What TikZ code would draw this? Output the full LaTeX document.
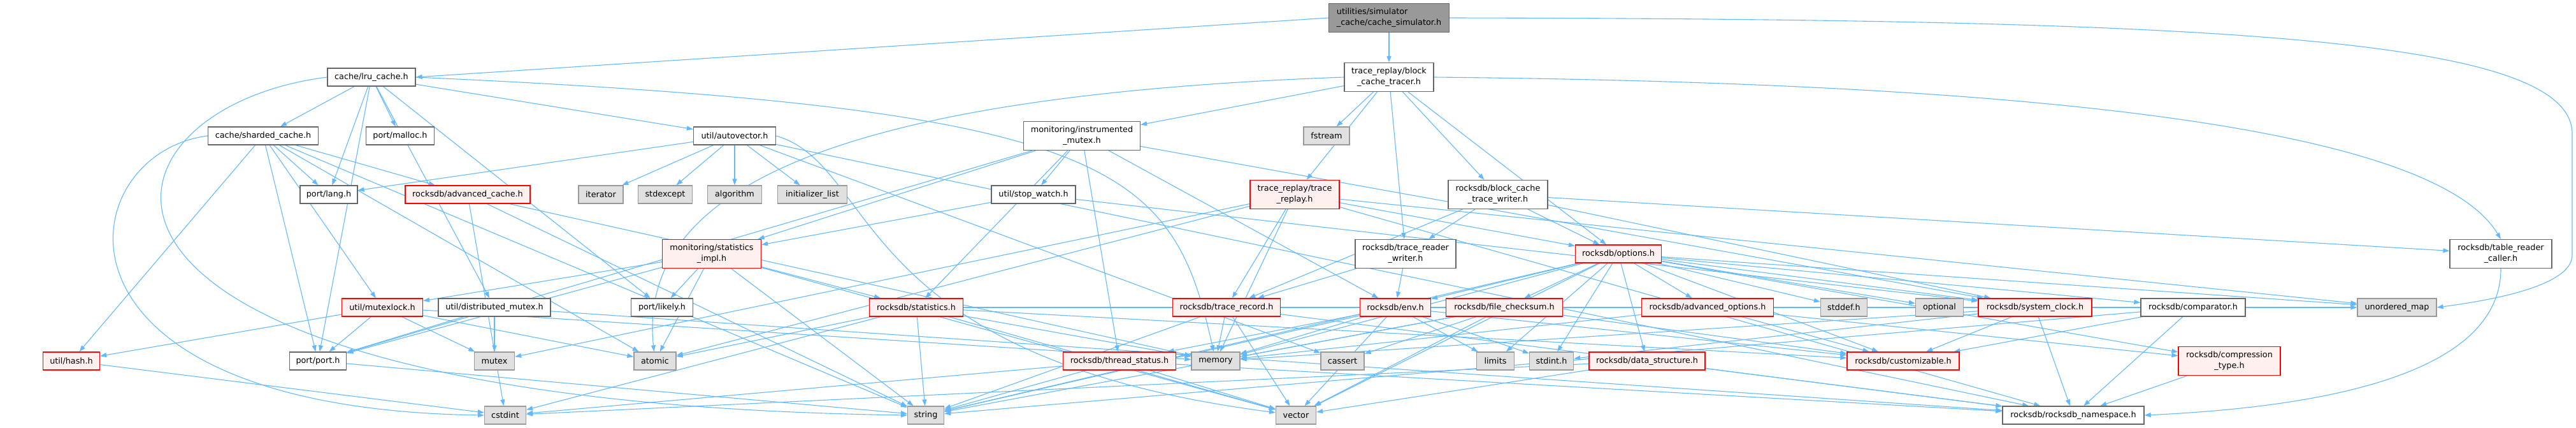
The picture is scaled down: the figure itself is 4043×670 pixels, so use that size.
\documentclass[tikz,border=0pt]{standalone}
\usepackage{fontspec}
\setmainfont{DejaVu Sans}
\usetikzlibrary{arrows.meta,backgrounds}
\definecolor{edgec}{HTML}{63B8FF}
\definecolor{bordw}{HTML}{666666}
\definecolor{bordg}{HTML}{999999}
\definecolor{fillg}{HTML}{E0E0E0}
\definecolor{fillr}{HTML}{FFF0F0}
\definecolor{bordr}{HTML}{FF0000}
\definecolor{fillroot}{HTML}{999999}
\tikzset{
  basebox/.style={draw, line width=1.3pt, inner sep=0pt, minimum height=28pt,
    font=\fontsize{12.8}{17}\selectfont, text=black, align=center},
  wbox/.style={basebox, fill=white, draw=bordw},
  rbox/.style={basebox, fill=fillr, draw=bordr},
  gbox/.style={basebox, fill=fillg, draw=bordg},
  rootbox/.style={basebox, fill=fillroot, draw=bordw, align=left},
  tall/.style={minimum height=45pt},
  edge/.style={draw=edgec, line width=1.1pt, -{Triangle[length=10pt,width=7pt]}},
}
\begin{document}
\begin{tikzpicture}[x=1pt,y=-1pt]
\useasboundingbox (0,0) rectangle (4043,670);
% row 0
\node[rootbox, tall, minimum width=189pt] (root) at (2180,28) {utilities/simulator\\\_cache/cache\_simulator.h};
% row 1
\node[wbox, minimum width=138pt] (lru) at (583,121) {cache/lru\_cache.h};
\node[wbox, tall, minimum width=140pt] (bct) at (2180,121) {trace\_replay/block\\\_cache\_tracer.h};
% row 2
\node[wbox, minimum width=173pt] (sharded) at (413,213) {cache/sharded\_cache.h};
\node[wbox, minimum width=107pt] (malloc) at (628,213) {port/malloc.h};
\node[wbox, minimum width=129pt] (autovec) at (1153,213) {util/autovector.h};
\node[wbox, tall, minimum width=183pt] (imutex) at (1698,213) {monitoring/instrumented\\\_mutex.h};
\node[gbox, minimum width=72pt] (fstream) at (2082,213) {fstream};
% row 3
\node[wbox, minimum width=90pt] (lang) at (516,305) {port/lang.h};
\node[rbox, minimum width=196pt] (advcache) at (734,305) {rocksdb/advanced\_cache.h};
\node[gbox, minimum width=70pt] (iterator) at (943,305) {iterator};
\node[gbox, minimum width=85pt] (stdexcept) at (1044,305) {stdexcept};
\node[gbox, minimum width=85pt] (algorithm) at (1153,305) {algorithm};
\node[gbox, minimum width=109pt] (initlist) at (1275,305) {initializer\_list};
\node[wbox, minimum width=132pt] (stopwatch) at (1622,305) {util/stop\_watch.h};
\node[rbox, tall, minimum width=140pt] (trreplay) at (2032,305) {trace\_replay/trace\\\_replay.h};
\node[wbox, tall, minimum width=156pt] (bctw) at (2351,305) {rocksdb/block\_cache\\\_trace\_writer.h};
% row 4
\node[rbox, tall, minimum width=155pt] (statimpl) at (1117,398) {monitoring/statistics\\\_impl.h};
\node[wbox, tall, minimum width=158pt] (trrw) at (2206,398) {rocksdb/trace\_reader\\\_writer.h};
\node[rbox, minimum width=135pt] (options) at (2540,398) {rocksdb/options.h};
\node[wbox, tall, minimum width=160pt] (trcaller) at (3925,398) {rocksdb/table\_reader\\\_caller.h};
% row 5
\node[rbox, minimum width=127pt] (mutexlock) at (600,482) {util/mutexlock.h};
\node[wbox, minimum width=176pt] (distmutex) at (776,482) {util/distributed\_mutex.h};
\node[wbox, minimum width=97pt] (likely) at (1039,482) {port/likely.h};
\node[rbox, minimum width=147pt] (statistics) at (1438,482) {rocksdb/statistics.h};
\node[rbox, minimum width=169pt] (trrecord) at (1925,482) {rocksdb/trace\_record.h};
\node[rbox, minimum width=111pt] (env) at (2190,482) {rocksdb/env.h};
\node[rbox, minimum width=183pt] (filechk) at (2361,482) {rocksdb/file\_checksum.h};
\node[rbox, minimum width=207pt] (advopts) at (2680,482) {rocksdb/advanced\_options.h};
\node[gbox, minimum width=73pt] (stddef) at (2894,482) {stddef.h};
\node[gbox, minimum width=75pt] (optional) at (3044,482) {optional};
\node[rbox, minimum width=178pt] (sysclock) at (3194,482) {rocksdb/system\_clock.h};
\node[wbox, minimum width=164pt] (comparator) at (3442,482) {rocksdb/comparator.h};
\node[gbox, minimum width=124pt] (umap) at (3762,482) {unordered\_map};
% row 6
\node[rbox, minimum width=89pt] (hash) at (112,566) {util/hash.h};
\node[wbox, minimum width=89pt] (port) at (499,566) {port/port.h};
\node[gbox, minimum width=63pt] (mutex) at (776,566) {mutex};
\node[gbox, minimum width=66pt] (atomic) at (1028,566) {atomic};
\node[rbox, minimum width=177pt] (thrstatus) at (1757,566) {rocksdb/thread\_status.h};
\node[gbox, minimum width=76pt] (memory) at (1908,566) {memory};
\node[gbox, minimum width=68pt] (cassert) at (2107,566) {cassert};
\node[gbox, minimum width=59pt] (limits) at (2347,566) {limits};
\node[gbox, minimum width=69pt] (stdint) at (2435,566) {stdint.h};
\node[rbox, minimum width=182pt] (datastruct) at (2585,566) {rocksdb/data\_structure.h};
\node[rbox, minimum width=176pt] (custom) at (2987,566) {rocksdb/customizable.h};
\node[rbox, tall, minimum width=160pt] (comptype) at (3499,566) {rocksdb/compression\\\_type.h};
% row 7
\node[gbox, minimum width=65pt] (cstdint) at (793,651) {cstdint};
\node[gbox, minimum width=57pt] (string) at (1453,651) {string};
\node[gbox, minimum width=63pt] (vector) at (2034,651) {vector};
\node[wbox, minimum width=222pt] (rnamespace) at (3254,651) {rocksdb/rocksdb\_namespace.h};

\coordinate (rr1) at (4037,210);
\coordinate (rr2) at (4037,400);

\begin{pgfonlayer}{background}
\draw[edge] (root.west) -- (lru.east);
\draw[edge] (root) -- (bct);
\draw[edge] (root.east) .. controls (3500,30) and (4037,60) .. (rr1) -- (rr2) .. controls (4037,450) and (3900,472) .. (umap.east);
\draw[edge] (bct.east) .. controls (3200,130) and (3820,200) .. (trcaller.north);
\draw[edge] (lru.east) .. controls (1750,170) and (1840,260) .. (memory);
\draw[edge] (autovec.east) .. controls (1380,260) and (1330,560) .. (vector);
\draw[edge] (trcaller.south) .. controls (3925,600) and (3600,640) .. (rnamespace.east);
\draw[edge] (bct.west) .. controls (1300,150) and (1000,300) .. (atomic);
\draw[edge] (lru.west) .. controls (120,170) and (0,630) .. (string.west);
\draw[edge] (sharded.west) .. controls (110,240) and (40,640) .. (cstdint.west);
\foreach \a/\b in {
  lru/sharded, lru/lang, lru/malloc, lru/likely, lru/port, lru/autovec, lru/distmutex,
  sharded/lang, sharded/advcache, sharded/hash, sharded/mutexlock, sharded/port, sharded/atomic, sharded/string,
  autovec/iterator, autovec/stdexcept, autovec/algorithm, autovec/initlist, autovec/cassert, autovec/lang, autovec/rnamespace,
  imutex/statimpl, imutex/port, imutex/env, imutex/statistics, imutex/sysclock, imutex/thrstatus, imutex/stopwatch,
  bct/fstream, bct/imutex, bct/bctw, bct/options, bct/trrw, bct/trreplay,
  stopwatch/statimpl, stopwatch/sysclock,
  advcache/cstdint, advcache/memory, advcache/string,
  statimpl/likely, statimpl/atomic, statimpl/string, statimpl/statistics, statimpl/vector, statimpl/port, statimpl/mutexlock,
  distmutex/port, distmutex/mutex, distmutex/rnamespace,
  mutexlock/hash, mutexlock/port, mutexlock/mutex, mutexlock/atomic, mutexlock/memory,
  hash/cstdint, port/string,
  statistics/atomic, statistics/cstdint, statistics/memory, statistics/string, statistics/vector, statistics/umap, statistics/custom,
  trrecord/memory, trrecord/string, trrecord/vector, trrecord/rnamespace,
  thrstatus/cstdint, thrstatus/string, thrstatus/vector, thrstatus/rnamespace,
  trreplay/trrecord, trreplay/options, trreplay/atomic, trreplay/memory, trreplay/mutex, trreplay/umap, trreplay/rnamespace,
  bctw/trrw, bctw/options, bctw/trcaller, bctw/sysclock, bctw/trrecord,
  trrw/env, trrw/trrecord,
  options/env, options/filechk, options/advopts, options/stddef, options/optional, options/datastruct, options/stdint,
  options/sysclock, options/comparator, options/umap, options/comptype, options/custom, options/memory, options/string,
  options/vector, options/limits,
  env/stdint, env/limits, env/memory, env/string, env/vector, env/custom, env/thrstatus,
  filechk/cassert, filechk/memory, filechk/string, filechk/vector, filechk/custom,
  advopts/memory, advopts/comptype, advopts/custom,
  datastruct/cstdint, datastruct/vector, datastruct/rnamespace,
  sysclock/stdint, sysclock/memory, sysclock/custom, sysclock/rnamespace,
  comparator/custom, comparator/rnamespace, comparator/string,
  comptype/rnamespace}
  \draw[edge] (\a) -- (\b);
\end{pgfonlayer}
\end{tikzpicture}
\end{document}
